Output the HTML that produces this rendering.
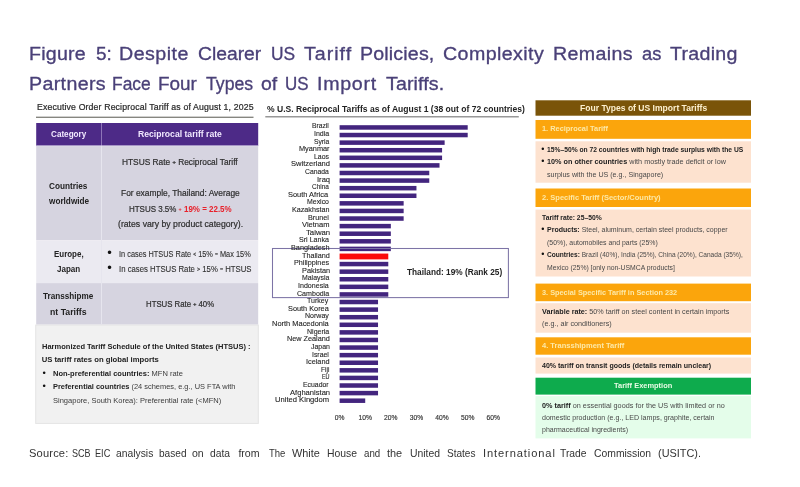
<!DOCTYPE html><html><head><meta charset="utf-8"><title>Figure 5</title><style>
html,body{margin:0;padding:0;background:#fff}
#p{position:relative;width:800px;height:487px;overflow:hidden;background:#fff;font-family:"Liberation Sans", sans-serif}
.b{position:absolute}
.t{position:absolute;white-space:pre;line-height:1;transform-origin:0 0}
.t b{font-weight:bold;-webkit-text-stroke-width:0}
.t small{font-size:.68em;position:relative;top:-.2em;font-weight:bold}
</style></head><body><div id="p">
<svg class="b" style="left:0;top:0" width="800" height="487" viewBox="0 0 800 487" shape-rendering="geometricPrecision"><rect x="36" y="116.75" width="217.5" height="0.9" fill="#45453c"/><rect x="36.2" y="123" width="222" height="23" fill="#4d2a87"/><rect x="101" y="123" width="1" height="23" fill="#8e75b8"/><rect x="36.2" y="146" width="222" height="94.3" fill="#d6d4e0"/><rect x="36.2" y="240.3" width="222" height="42.8" fill="#ebeaf1"/><rect x="36.2" y="283.1" width="222" height="41.5" fill="#d6d4e0"/><rect x="101" y="146" width="1" height="178.8" fill="#e6e5ee"/><rect x="36.2" y="145.4" width="222" height="0.9" fill="#e2dcee"/><rect x="35.7" y="325.1" width="222.6" height="98.3" fill="#f1f1f1" stroke="#e4e4e4" stroke-width="1"/><rect x="265.3" y="116.4" width="253.5" height="0.9" fill="#555"/><rect x="535.5" y="100.3" width="215.5" height="15.4" fill="#7a5409"/><rect x="535.5" y="120" width="215.5" height="18.8" fill="#fba50c"/><rect x="535.5" y="141.3" width="215.5" height="41.4" fill="#fde2cf"/><rect x="535.5" y="188.5" width="215.5" height="18.5" fill="#fba50c"/><rect x="535.5" y="209.6" width="215.5" height="66.9" fill="#fde2cf"/><rect x="535.5" y="283.6" width="215.5" height="17.6" fill="#fba50c"/><rect x="535.5" y="303.2" width="215.5" height="29.5" fill="#fde2cf"/><rect x="535.5" y="337.3" width="215.5" height="17.4" fill="#fba50c"/><rect x="535.5" y="357.5" width="215.5" height="16.1" fill="#fde2cf"/><rect x="535.5" y="377.7" width="215.5" height="16.9" fill="#0eab4d"/><rect x="535.5" y="396.1" width="215.5" height="42.3" fill="#e4fdea"/></svg>
<svg class="b" style="left:330px;top:120px" width="200" height="290" viewBox="330 120 200 290" shape-rendering="geometricPrecision"><rect x="339.6" y="125.20" width="128.10" height="4.5" fill="#43257e"/><rect x="339.6" y="132.79" width="128.10" height="4.5" fill="#43257e"/><rect x="339.6" y="140.38" width="105.04" height="4.5" fill="#43257e"/><rect x="339.6" y="147.97" width="102.48" height="4.5" fill="#43257e"/><rect x="339.6" y="155.56" width="102.48" height="4.5" fill="#43257e"/><rect x="339.6" y="163.15" width="99.92" height="4.5" fill="#43257e"/><rect x="339.6" y="170.74" width="89.67" height="4.5" fill="#43257e"/><rect x="339.6" y="178.33" width="89.67" height="4.5" fill="#43257e"/><rect x="339.6" y="185.92" width="76.86" height="4.5" fill="#43257e"/><rect x="339.6" y="193.51" width="76.86" height="4.5" fill="#43257e"/><rect x="339.6" y="201.10" width="64.05" height="4.5" fill="#43257e"/><rect x="339.6" y="208.69" width="64.05" height="4.5" fill="#43257e"/><rect x="339.6" y="216.28" width="64.05" height="4.5" fill="#43257e"/><rect x="339.6" y="223.87" width="51.24" height="4.5" fill="#43257e"/><rect x="339.6" y="231.46" width="51.24" height="4.5" fill="#43257e"/><rect x="339.6" y="239.05" width="51.24" height="4.5" fill="#43257e"/><rect x="339.6" y="246.64" width="51.24" height="4.5" fill="#43257e"/><rect x="339.6" y="253.58" width="48.68" height="5.8" fill="#fb0a0a"/><rect x="339.6" y="261.82" width="48.68" height="4.5" fill="#43257e"/><rect x="339.6" y="269.41" width="48.68" height="4.5" fill="#43257e"/><rect x="339.6" y="277.00" width="48.68" height="4.5" fill="#43257e"/><rect x="339.6" y="284.59" width="48.68" height="4.5" fill="#43257e"/><rect x="339.6" y="292.18" width="48.68" height="4.5" fill="#43257e"/><rect x="339.6" y="299.77" width="38.43" height="4.5" fill="#43257e"/><rect x="339.6" y="307.36" width="38.43" height="4.5" fill="#43257e"/><rect x="339.6" y="314.95" width="38.43" height="4.5" fill="#43257e"/><rect x="339.6" y="322.54" width="38.43" height="4.5" fill="#43257e"/><rect x="339.6" y="330.13" width="38.43" height="4.5" fill="#43257e"/><rect x="339.6" y="337.72" width="38.43" height="4.5" fill="#43257e"/><rect x="339.6" y="345.31" width="38.43" height="4.5" fill="#43257e"/><rect x="339.6" y="352.90" width="38.43" height="4.5" fill="#43257e"/><rect x="339.6" y="360.49" width="38.43" height="4.5" fill="#43257e"/><rect x="339.6" y="368.08" width="38.43" height="4.5" fill="#43257e"/><rect x="339.6" y="375.67" width="38.43" height="4.5" fill="#43257e"/><rect x="339.6" y="383.26" width="38.43" height="4.5" fill="#43257e"/><rect x="339.6" y="390.85" width="38.43" height="4.5" fill="#43257e"/><rect x="339.6" y="398.44" width="25.62" height="4.5" fill="#43257e"/></svg>
<svg class="b" style="left:265px;top:240px" width="250" height="65" viewBox="265 240 250 65"><rect x="272.5" y="248.5" width="235.9" height="49.1" fill="none" stroke="#7d74a6" stroke-width="1.05"/></svg>
<span class="t" style="top:45.17px;font-size:18.7px;color:#4a4078;-webkit-text-stroke-width:0.32px;left:28.73px;transform:scaleX(1.0500);letter-spacing:0.218px;">Figure</span>
<span class="t" style="top:45.17px;font-size:18.7px;color:#4a4078;-webkit-text-stroke-width:0.32px;left:95.60px;transform:scaleX(1.0144);">5:</span>
<span class="t" style="top:45.17px;font-size:18.7px;color:#4a4078;-webkit-text-stroke-width:0.32px;left:118.90px;transform:scaleX(1.0500);letter-spacing:0.465px;">Despite</span>
<span class="t" style="top:45.17px;font-size:18.7px;color:#4a4078;-webkit-text-stroke-width:0.32px;left:198.00px;transform:scaleX(1.0319);">Clearer</span>
<span class="t" style="top:45.17px;font-size:18.7px;color:#4a4078;-webkit-text-stroke-width:0.32px;left:270.67px;transform:scaleX(0.9308);">US</span>
<span class="t" style="top:45.17px;font-size:18.7px;color:#4a4078;-webkit-text-stroke-width:0.32px;left:303.60px;transform:scaleX(1.0500);letter-spacing:0.950px;">Tariff</span>
<span class="t" style="top:45.17px;font-size:18.7px;color:#4a4078;-webkit-text-stroke-width:0.32px;left:359.93px;transform:scaleX(1.0500);letter-spacing:0.147px;">Policies,</span>
<span class="t" style="top:45.17px;font-size:18.7px;color:#4a4078;-webkit-text-stroke-width:0.32px;left:443.00px;transform:scaleX(1.0500);letter-spacing:0.388px;">Complexity</span>
<span class="t" style="top:45.17px;font-size:18.7px;color:#4a4078;-webkit-text-stroke-width:0.32px;left:553.32px;transform:scaleX(1.0500);letter-spacing:0.347px;">Remains</span>
<span class="t" style="top:45.17px;font-size:18.7px;color:#4a4078;-webkit-text-stroke-width:0.32px;left:642.00px;transform:scaleX(0.9797);">as</span>
<span class="t" style="top:45.17px;font-size:18.7px;color:#4a4078;-webkit-text-stroke-width:0.32px;left:670.00px;transform:scaleX(1.0500);letter-spacing:0.256px;">Trading</span>
<span class="t" style="top:75.17px;font-size:18.7px;color:#4a4078;-webkit-text-stroke-width:0.32px;left:28.71px;transform:scaleX(1.0500);letter-spacing:0.334px;">Partners</span>
<span class="t" style="top:75.17px;font-size:18.7px;color:#4a4078;-webkit-text-stroke-width:0.32px;left:112.07px;transform:scaleX(0.9315);">Face</span>
<span class="t" style="top:75.17px;font-size:18.7px;color:#4a4078;-webkit-text-stroke-width:0.32px;left:157.99px;transform:scaleX(1.0107);">Four</span>
<span class="t" style="top:75.17px;font-size:18.7px;color:#4a4078;-webkit-text-stroke-width:0.32px;left:205.60px;transform:scaleX(0.9452);">Types</span>
<span class="t" style="top:75.17px;font-size:18.7px;color:#4a4078;-webkit-text-stroke-width:0.32px;left:261.00px;transform:scaleX(1.0370);">of</span>
<span class="t" style="top:75.17px;font-size:18.7px;color:#4a4078;-webkit-text-stroke-width:0.32px;left:285.49px;transform:scaleX(0.9063);">US</span>
<span class="t" style="top:75.17px;font-size:18.7px;color:#4a4078;-webkit-text-stroke-width:0.32px;left:316.88px;transform:scaleX(1.0500);letter-spacing:0.684px;">Import</span>
<span class="t" style="top:75.17px;font-size:18.7px;color:#4a4078;-webkit-text-stroke-width:0.32px;left:386.00px;transform:scaleX(1.0500);letter-spacing:0.112px;">Tariffs.</span>
<span class="t" style="top:102.97px;font-size:8.3px;color:#2a2a2a;-webkit-text-stroke-width:0.22px;left:36.60px;transform:scaleX(1.0500);letter-spacing:0.138px;">Executive Order Reciprocal Tariff as of August 1, 2025</span>
<span class="t" style="top:129.92px;font-size:8.6px;color:#f1e9ff;font-weight:bold;left:50.65px;transform:scaleX(0.9474);">Category</span>
<span class="t" style="top:129.92px;font-size:8.6px;color:#f1e9ff;font-weight:bold;left:138.15px;transform:scaleX(1.0036);">Reciprocal tariff rate</span>
<span class="t" style="top:181.67px;font-size:8.3px;color:#222;font-weight:bold;left:49.40px;transform:scaleX(0.9921);">Countries</span>
<span class="t" style="top:197.47px;font-size:8.3px;color:#222;font-weight:bold;left:48.59px;transform:scaleX(0.9893);">worldwide</span>
<span class="t" style="top:158.47px;font-size:8.3px;color:#2e2e2e;-webkit-text-stroke-width:0.2px;left:121.80px;transform:scaleX(1.0054);">HTSUS Rate <small>+</small> Reciprocal Tariff</span>
<span class="t" style="top:189.47px;font-size:8.3px;color:#2e2e2e;-webkit-text-stroke-width:0.2px;left:120.60px;transform:scaleX(1.0127);">For example, Thailand: Average</span>
<span class="t" style="top:205.17px;font-size:8.3px;color:#2e2e2e;-webkit-text-stroke-width:0.2px;left:128.60px;transform:scaleX(0.9605);">HTSUS 3.5% <b style="color:#e8202a"><small>+</small> 19% = 22.5%</b></span>
<span class="t" style="top:220.47px;font-size:8.3px;color:#2e2e2e;-webkit-text-stroke-width:0.2px;left:117.80px;transform:scaleX(1.0476);">(rates vary by product category).</span>
<span class="t" style="top:249.97px;font-size:8.3px;color:#222;font-weight:bold;left:53.70px;transform:scaleX(0.9581);">Europe,</span>
<span class="t" style="top:265.47px;font-size:8.3px;color:#222;font-weight:bold;left:56.50px;transform:scaleX(0.9661);">Japan</span>
<span class="t" style="top:245.90px;font-size:13px;color:#111;left:107.30px;">•</span>
<span class="t" style="top:261.10px;font-size:13px;color:#111;left:107.30px;">•</span>
<span class="t" style="top:249.84px;font-size:8.7px;color:#2e2e2e;-webkit-text-stroke-width:0.1px;left:118.70px;transform:scaleX(0.8488);">In cases HTSUS Rate <small>&lt;</small> 15% <small>=</small> Max 15%</span>
<span class="t" style="top:264.74px;font-size:8.7px;color:#2e2e2e;-webkit-text-stroke-width:0.1px;left:118.70px;transform:scaleX(0.8932);">In cases HTSUS Rate <small>&gt;</small> 15% <small>=</small> HTSUS</span>
<span class="t" style="top:292.17px;font-size:8.3px;color:#222;font-weight:bold;left:43.20px;transform:scaleX(0.9812);">Transshipme</span>
<span class="t" style="top:308.17px;font-size:8.3px;color:#222;font-weight:bold;left:50.30px;transform:scaleX(1.0493);">nt Tariffs</span>
<span class="t" style="top:299.97px;font-size:8.3px;color:#2e2e2e;-webkit-text-stroke-width:0.2px;left:146.10px;transform:scaleX(0.9401);">HTSUS Rate <small>+</small> 40%</span>
<span class="t" style="top:342.98px;font-size:7.7px;color:#222;font-weight:bold;left:41.70px;transform:scaleX(0.9772);">Harmonized Tariff Schedule of the United States (HTSUS) :</span>
<span class="t" style="top:356.48px;font-size:7.7px;color:#222;font-weight:bold;left:41.70px;">US tariff rates on global imports</span>
<span class="t" style="top:368.16px;font-size:9.5px;color:#111;left:42.40px;">•</span>
<span class="t" style="top:370.05px;font-size:7.5px;color:#3a3a3a;left:52.50px;transform:scaleX(1.0021);"><b style="color:#222">Non-preferential countries:</b> MFN rate</span>
<span class="t" style="top:381.26px;font-size:9.5px;color:#111;left:42.40px;">•</span>
<span class="t" style="top:383.15px;font-size:7.5px;color:#3a3a3a;left:52.50px;transform:scaleX(0.9911);"><b style="color:#222">Preferential countries</b> (24 schemes, e.g., US FTA with</span>
<span class="t" style="top:396.95px;font-size:7.5px;color:#3a3a3a;left:52.50px;transform:scaleX(1.0030);">Singapore, South Korea): Preferential rate (&lt;MFN)</span>
<span class="t" style="top:448.43px;font-size:10.6px;color:#333;left:29.10px;transform:scaleX(1.0500);letter-spacing:0.152px;">Source:</span>
<span class="t" style="top:448.43px;font-size:10.6px;color:#333;left:72.00px;transform:scaleX(0.8519);">SCB</span>
<span class="t" style="top:448.43px;font-size:10.6px;color:#333;left:95.40px;transform:scaleX(0.8662);">EIC</span>
<span class="t" style="top:448.43px;font-size:10.6px;color:#333;left:116.20px;transform:scaleX(0.9743);">analysis</span>
<span class="t" style="top:448.43px;font-size:10.6px;color:#333;left:158.80px;transform:scaleX(0.9526);">based</span>
<span class="t" style="top:448.43px;font-size:10.6px;color:#333;left:192.20px;transform:scaleX(0.9923);">on</span>
<span class="t" style="top:448.43px;font-size:10.6px;color:#333;left:210.40px;transform:scaleX(0.9746);">data</span>
<span class="t" style="top:448.43px;font-size:10.6px;color:#333;left:238.40px;">from</span>
<span class="t" style="top:448.43px;font-size:10.6px;color:#333;left:268.80px;transform:scaleX(0.8986);">The</span>
<span class="t" style="top:448.43px;font-size:10.6px;color:#333;left:291.50px;transform:scaleX(1.0299);">White</span>
<span class="t" style="top:448.43px;font-size:10.6px;color:#333;left:326.60px;transform:scaleX(0.9827);">House</span>
<span class="t" style="top:448.43px;font-size:10.6px;color:#333;left:364.30px;transform:scaleX(0.9166);">and</span>
<span class="t" style="top:448.43px;font-size:10.6px;color:#333;left:386.70px;transform:scaleX(1.0313);">the</span>
<span class="t" style="top:448.43px;font-size:10.6px;color:#333;left:409.50px;transform:scaleX(0.9827);">United</span>
<span class="t" style="top:448.43px;font-size:10.6px;color:#333;left:446.90px;transform:scaleX(0.9483);">States</span>
<span class="t" style="top:448.43px;font-size:10.6px;color:#333;left:483.00px;transform:scaleX(1.0500);letter-spacing:0.845px;">International</span>
<span class="t" style="top:448.43px;font-size:10.6px;color:#333;left:560.30px;transform:scaleX(0.9748);">Trade</span>
<span class="t" style="top:448.43px;font-size:10.6px;color:#333;left:593.50px;transform:scaleX(0.9797);">Commission</span>
<span class="t" style="top:448.43px;font-size:10.6px;color:#333;left:657.80px;transform:scaleX(1.0285);">(USITC).</span>
<span class="t" style="top:104.97px;font-size:8.3px;color:#222;font-weight:bold;left:266.60px;transform:scaleX(1.0300);">% U.S. Reciprocal Tariffs as of August 1 (38 out of 72 countries)</span>
<span class="t" style="top:122.44px;font-size:8.1px;color:#262626;-webkit-text-stroke-width:0.12px;left:312.30px;transform:scaleX(0.8317);">Brazil</span>
<span class="t" style="top:130.04px;font-size:8.1px;color:#262626;-webkit-text-stroke-width:0.12px;left:313.60px;transform:scaleX(0.8698);">India</span>
<span class="t" style="top:137.64px;font-size:8.1px;color:#262626;-webkit-text-stroke-width:0.12px;left:313.60px;transform:scaleX(0.8290);">Syria</span>
<span class="t" style="top:145.25px;font-size:8.1px;color:#262626;-webkit-text-stroke-width:0.12px;left:298.50px;transform:scaleX(0.9049);">Myanmar</span>
<span class="t" style="top:152.85px;font-size:8.1px;color:#262626;-webkit-text-stroke-width:0.12px;left:314.30px;transform:scaleX(0.8569);">Laos</span>
<span class="t" style="top:160.45px;font-size:8.1px;color:#262626;-webkit-text-stroke-width:0.12px;left:290.80px;transform:scaleX(0.9314);">Switzerland</span>
<span class="t" style="top:168.05px;font-size:8.1px;color:#262626;-webkit-text-stroke-width:0.12px;left:305.10px;transform:scaleX(0.8388);">Canada</span>
<span class="t" style="top:175.65px;font-size:8.1px;color:#262626;-webkit-text-stroke-width:0.12px;left:316.70px;transform:scaleX(0.9371);">Iraq</span>
<span class="t" style="top:183.26px;font-size:8.1px;color:#262626;-webkit-text-stroke-width:0.12px;left:312.00px;transform:scaleX(0.7992);">China</span>
<span class="t" style="top:190.86px;font-size:8.1px;color:#262626;-webkit-text-stroke-width:0.12px;left:288.30px;transform:scaleX(0.9195);">South Africa</span>
<span class="t" style="top:198.46px;font-size:8.1px;color:#262626;-webkit-text-stroke-width:0.12px;left:306.90px;transform:scaleX(0.8571);">Mexico</span>
<span class="t" style="top:206.06px;font-size:8.1px;color:#262626;-webkit-text-stroke-width:0.12px;left:292.30px;transform:scaleX(0.8853);">Kazakhstan</span>
<span class="t" style="top:213.66px;font-size:8.1px;color:#262626;-webkit-text-stroke-width:0.12px;left:308.20px;transform:scaleX(0.8942);">Brunei</span>
<span class="t" style="top:221.27px;font-size:8.1px;color:#262626;-webkit-text-stroke-width:0.12px;left:301.60px;transform:scaleX(0.9294);">Vietnam</span>
<span class="t" style="top:228.87px;font-size:8.1px;color:#262626;-webkit-text-stroke-width:0.12px;left:305.70px;transform:scaleX(0.9558);">Taiwan</span>
<span class="t" style="top:236.47px;font-size:8.1px;color:#262626;-webkit-text-stroke-width:0.12px;left:298.90px;transform:scaleX(0.8763);">Sri Lanka</span>
<span class="t" style="top:244.07px;font-size:8.1px;color:#262626;-webkit-text-stroke-width:0.12px;left:291.20px;transform:scaleX(0.9017);">Bangladesh</span>
<span class="t" style="top:251.67px;font-size:8.1px;color:#262626;-webkit-text-stroke-width:0.12px;left:302.00px;transform:scaleX(0.8937);">Thailand</span>
<span class="t" style="top:259.28px;font-size:8.1px;color:#262626;-webkit-text-stroke-width:0.12px;left:294.30px;transform:scaleX(0.8952);">Philippines</span>
<span class="t" style="top:266.88px;font-size:8.1px;color:#262626;-webkit-text-stroke-width:0.12px;left:301.60px;transform:scaleX(0.9070);">Pakistan</span>
<span class="t" style="top:274.48px;font-size:8.1px;color:#262626;-webkit-text-stroke-width:0.12px;left:301.60px;transform:scaleX(0.8540);">Malaysia</span>
<span class="t" style="top:282.08px;font-size:8.1px;color:#262626;-webkit-text-stroke-width:0.12px;left:298.20px;transform:scaleX(0.8736);">Indonesia</span>
<span class="t" style="top:289.68px;font-size:8.1px;color:#262626;-webkit-text-stroke-width:0.12px;left:296.60px;transform:scaleX(0.8745);">Cambodia</span>
<span class="t" style="top:297.29px;font-size:8.1px;color:#262626;-webkit-text-stroke-width:0.12px;left:307.30px;transform:scaleX(0.8665);">Turkey</span>
<span class="t" style="top:304.89px;font-size:8.1px;color:#262626;-webkit-text-stroke-width:0.12px;left:288.10px;transform:scaleX(0.9056);">South Korea</span>
<span class="t" style="top:312.49px;font-size:8.1px;color:#262626;-webkit-text-stroke-width:0.12px;left:304.60px;transform:scaleX(0.8701);">Norway</span>
<span class="t" style="top:320.09px;font-size:8.1px;color:#262626;-webkit-text-stroke-width:0.12px;left:272.10px;transform:scaleX(0.9206);">North Macedonia</span>
<span class="t" style="top:327.69px;font-size:8.1px;color:#262626;-webkit-text-stroke-width:0.12px;left:306.60px;transform:scaleX(0.8684);">Nigeria</span>
<span class="t" style="top:335.30px;font-size:8.1px;color:#262626;-webkit-text-stroke-width:0.12px;left:286.90px;transform:scaleX(0.8985);">New Zealand</span>
<span class="t" style="top:342.90px;font-size:8.1px;color:#262626;-webkit-text-stroke-width:0.12px;left:310.80px;transform:scaleX(0.8584);">Japan</span>
<span class="t" style="top:350.50px;font-size:8.1px;color:#262626;-webkit-text-stroke-width:0.12px;left:312.30px;transform:scaleX(0.8503);">Israel</span>
<span class="t" style="top:358.10px;font-size:8.1px;color:#262626;-webkit-text-stroke-width:0.12px;left:306.20px;transform:scaleX(0.9024);">Iceland</span>
<span class="t" style="top:365.70px;font-size:8.1px;color:#262626;-webkit-text-stroke-width:0.12px;left:320.80px;transform:scaleX(0.8064);">Fiji</span>
<span class="t" style="top:373.31px;font-size:8.1px;color:#262626;-webkit-text-stroke-width:0.12px;left:321.60px;transform:scaleX(0.6800);letter-spacing:-0.075px;">EU</span>
<span class="t" style="top:380.91px;font-size:8.1px;color:#262626;-webkit-text-stroke-width:0.12px;left:303.40px;transform:scaleX(0.8506);">Ecuador</span>
<span class="t" style="top:388.51px;font-size:8.1px;color:#262626;-webkit-text-stroke-width:0.12px;left:289.70px;transform:scaleX(0.9373);">Afghanistan</span>
<span class="t" style="top:396.11px;font-size:8.1px;color:#262626;-webkit-text-stroke-width:0.12px;left:274.90px;transform:scaleX(0.9404);">United Kingdom</span>
<span class="t" style="top:414.53px;font-size:6.7px;color:#333;-webkit-text-stroke-width:0.15px;left:334.74px;">0%</span>
<span class="t" style="top:414.53px;font-size:6.7px;color:#333;-webkit-text-stroke-width:0.15px;left:358.50px;">10%</span>
<span class="t" style="top:414.53px;font-size:6.7px;color:#333;-webkit-text-stroke-width:0.15px;left:384.12px;">20%</span>
<span class="t" style="top:414.53px;font-size:6.7px;color:#333;-webkit-text-stroke-width:0.15px;left:409.74px;">30%</span>
<span class="t" style="top:414.53px;font-size:6.7px;color:#333;-webkit-text-stroke-width:0.15px;left:435.36px;">40%</span>
<span class="t" style="top:414.53px;font-size:6.7px;color:#333;-webkit-text-stroke-width:0.15px;left:460.98px;">50%</span>
<span class="t" style="top:414.53px;font-size:6.7px;color:#333;-webkit-text-stroke-width:0.15px;left:486.60px;">60%</span>
<span class="t" style="top:267.97px;font-size:8.3px;color:#222;font-weight:bold;left:407.00px;transform:scaleX(0.9971);">Thailand: 19% (Rank 25)</span>
<span class="t" style="top:104.49px;font-size:8.4px;color:#fdf0cf;font-weight:bold;left:579.70px;transform:scaleX(1.0222);">Four Types of US Import Tariffs</span>
<span class="t" style="top:124.63px;font-size:8.0px;color:#fde9a8;font-weight:bold;left:541.50px;transform:scaleX(0.9238);">1. Reciprocal Tariff</span>
<span class="t" style="top:144.78px;font-size:9px;color:#111;left:541.30px;">•</span>
<span class="t" style="top:146.66px;font-size:6.9px;color:#222;font-weight:bold;left:546.50px;transform:scaleX(0.9742);">15%–50% on 72 countries with high trade surplus with the US</span>
<span class="t" style="top:156.98px;font-size:9px;color:#111;left:541.30px;">•</span>
<span class="t" style="top:158.86px;font-size:6.9px;color:#484848;left:546.50px;transform:scaleX(1.0500);letter-spacing:0.008px;"><b style="color:#222">10% on other countries</b> with mostly trade deficit or low</span>
<span class="t" style="top:171.76px;font-size:6.9px;color:#484848;left:546.50px;transform:scaleX(1.0320);">surplus with the US (e.g., Singapore)</span>
<span class="t" style="top:193.73px;font-size:8.0px;color:#fde9a8;font-weight:bold;left:541.50px;transform:scaleX(0.9371);">2. Specific Tariff (Sector/Country)</span>
<span class="t" style="top:214.66px;font-size:6.9px;color:#222;font-weight:bold;left:541.50px;transform:scaleX(0.9829);">Tariff rate: 25–50%</span>
<span class="t" style="top:224.98px;font-size:9px;color:#111;left:541.30px;">•</span>
<span class="t" style="top:227.36px;font-size:6.9px;color:#484848;left:546.50px;transform:scaleX(1.0168);"><b style="color:#222">Products:</b> Steel, aluminum, certain steel products, copper</span>
<span class="t" style="top:240.26px;font-size:6.9px;color:#484848;left:546.50px;transform:scaleX(1.0036);">(50%), automobiles and parts (25%)</span>
<span class="t" style="top:249.58px;font-size:9px;color:#111;left:541.30px;">•</span>
<span class="t" style="top:252.46px;font-size:6.9px;color:#484848;left:546.50px;transform:scaleX(0.9535);"><b style="color:#222">Countries:</b> Brazil (40%), India (25%), China (20%), Canada (35%),</span>
<span class="t" style="top:264.86px;font-size:6.9px;color:#484848;left:546.50px;transform:scaleX(0.9906);">Mexico (25%) [only non-USMCA products]</span>
<span class="t" style="top:288.63px;font-size:8.0px;color:#fde9a8;font-weight:bold;left:541.50px;transform:scaleX(0.9168);">3. Special Specific Tariff in Section 232</span>
<span class="t" style="top:308.56px;font-size:6.9px;color:#484848;left:541.50px;transform:scaleX(1.0458);"><b style="color:#222">Variable rate:</b> 50% tariff on steel content in certain imports</span>
<span class="t" style="top:320.66px;font-size:6.9px;color:#484848;left:541.50px;transform:scaleX(1.0461);">(e.g., air conditioners)</span>
<span class="t" style="top:342.43px;font-size:8.0px;color:#fde9a8;font-weight:bold;left:541.50px;transform:scaleX(0.9412);">4. Transshipment Tariff</span>
<span class="t" style="top:362.66px;font-size:6.9px;color:#222;font-weight:bold;left:541.50px;transform:scaleX(1.0176);">40% tariff on transit goods (details remain unclear)</span>
<span class="t" style="top:382.30px;font-size:7.8px;color:#e9fbe6;font-weight:bold;left:613.60px;transform:scaleX(0.9563);">Tariff Exemption</span>
<span class="t" style="top:402.66px;font-size:6.9px;color:#484848;left:541.50px;transform:scaleX(1.0500);letter-spacing:0.016px;"><b style="color:#222">0% tariff</b> on essential goods for the US with limited or no</span>
<span class="t" style="top:415.16px;font-size:6.9px;color:#484848;left:541.50px;transform:scaleX(1.0261);">domestic production (e.g., LED lamps, graphite, certain</span>
<span class="t" style="top:427.36px;font-size:6.9px;color:#484848;left:541.50px;transform:scaleX(1.0172);">pharmaceutical ingredients)</span>
</div></body></html>
